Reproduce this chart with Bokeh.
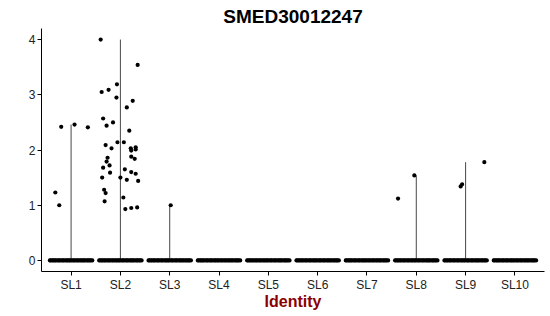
from bokeh.plotting import figure
from bokeh.models import FixedTicker, Range1d, ColumnDataSource
from bokeh.embed import file_html
from bokeh.resources import INLINE

clusters = ["SL1", "SL2", "SL3", "SL4", "SL5", "SL6", "SL7", "SL8", "SL9", "SL10"]

# non-zero expression values per cluster: (jitter offsets, values)
sl1_offset = [-0.32, -0.24, -0.20, 0.07, 0.34]
sl1_value = [1.23, 1.00, 2.42, 2.46, 2.41]
sl2_offset = [-0.40, 0.35, -0.07, -0.38, -0.24, -0.08, 0.25, 0.13, -0.35, -0.15,
              -0.28, 0.18, -0.30, -0.06, 0.07, -0.18, 0.21, 0.31, 0.22, 0.31,
              -0.26, 0.22, 0.29, -0.28, -0.22, -0.35, 0.09, -0.21, 0.22, 0.31,
              -0.37, 0.00, 0.13, 0.36, -0.33, -0.30, -0.32, 0.06, 0.10, 0.22, 0.34]
sl2_value = [4.00, 3.54, 3.19, 3.05, 3.09, 2.95, 2.89, 2.77, 2.57, 2.50,
             2.44, 2.35, 2.09, 2.14, 2.14, 2.03, 2.03, 2.05, 1.99, 2.01,
             1.86, 1.88, 1.84, 1.79, 1.72, 1.68, 1.65, 1.59, 1.60, 1.57,
             1.50, 1.50, 1.46, 1.44, 1.28, 1.22, 1.07, 1.14, 0.93, 0.95, 0.96]
sl3_offset = [0.02]
sl3_value = [1.00]
sl8_offset = [-0.37, -0.04]
sl8_value = [1.12, 1.54]
sl9_offset = [-0.10, -0.07, 0.38]
sl9_value = [1.34, 1.38, 1.78]

nonzero = {
    "SL1": (sl1_offset, sl1_value),
    "SL2": (sl2_offset, sl2_value),
    "SL3": (sl3_offset, sl3_value),
    "SL8": (sl8_offset, sl8_value),
    "SL9": (sl9_offset, sl9_value),
}

# jitter offsets of the many zero-valued cells (same pattern in each cluster)
zero_offset = [-0.43, -0.41, -0.38, -0.36, -0.33, -0.31, -0.28, -0.25, -0.23, -0.20,
               -0.17, -0.15, -0.12, -0.09, -0.07, -0.04, -0.02, 0.01, 0.04, 0.06,
               0.09, 0.12, 0.14, 0.17, 0.20, 0.22, 0.25, 0.27, 0.30, 0.33,
               0.35, 0.38, 0.40, 0.43]

yticks = [0, 1, 2, 3, 4]

FONT = "Liberation Sans"

p = figure(width=550, height=316, output_backend="svg", toolbar_location=None,
           x_range=Range1d(0.4, 10.6), y_range=Range1d(-0.2, 4.2),
           min_border_left=41, min_border_right=6, min_border_top=28, min_border_bottom=45)

# violins (degenerate: a thin spike from 0 to the cluster max)
vx, vtop = [], []
for i, c in enumerate(clusters, start=1):
    if c in nonzero:
        vx.append(i)
        vtop.append(max(nonzero[c][1]))
p.segment(x0=vx, y0=[0] * len(vx), x1=vx, y1=vtop, line_color="#333333", line_width=0.9)

# zero points
zx, zy = [], []
for i in range(1, len(clusters) + 1):
    for o in zero_offset:
        zx.append(i + o)
        zy.append(0)
p.scatter(zx, zy, size=4.2, color="black", line_color=None)

# non-zero points
px, py = [], []
for i, c in enumerate(clusters, start=1):
    if c in nonzero:
        offs, vals = nonzero[c]
        for o, v in zip(offs, vals):
            px.append(i + o)
            py.append(v)
src = ColumnDataSource(dict(x=px, y=py))
p.scatter("x", "y", source=src, size=4.2, color="black", line_color=None)

p.xgrid.visible = False
p.ygrid.visible = False
p.outline_line_color = None

p.xaxis.ticker = FixedTicker(ticks=list(range(1, len(clusters) + 1)))
p.xaxis.major_label_overrides = {i + 1: c for i, c in enumerate(clusters)}
p.yaxis.ticker = FixedTicker(ticks=yticks)
p.xaxis.minor_tick_line_color = None
p.yaxis.minor_tick_line_color = None

for ax in (p.xaxis[0], p.yaxis[0]):
    ax.axis_line_color = "black"
    ax.axis_line_width = 1
    ax.major_tick_line_color = "black"
    ax.major_tick_out = 4
    ax.major_tick_in = 0
    ax.major_label_text_font = FONT
    ax.major_label_text_font_size = "12px"
    ax.major_label_text_color = "#222222"
    ax.major_label_standoff = 2

p.xaxis.axis_label = "Identity"
p.xaxis.axis_label_text_font = FONT
p.xaxis.axis_label_text_font_size = "16px"
p.xaxis.axis_label_text_font_style = "bold"
p.xaxis.axis_label_text_color = "#8B0000"
p.xaxis.axis_label_standoff = -2

p.title.text = "SMED30012247"
p.title.align = "center"
p.title.text_font = FONT
p.title.text_font_size = "19px"
p.title.text_font_style = "bold"
p.title.text_color = "black"
p.title.standoff = 4

open("out.html", "w").write(file_html(p, INLINE))
